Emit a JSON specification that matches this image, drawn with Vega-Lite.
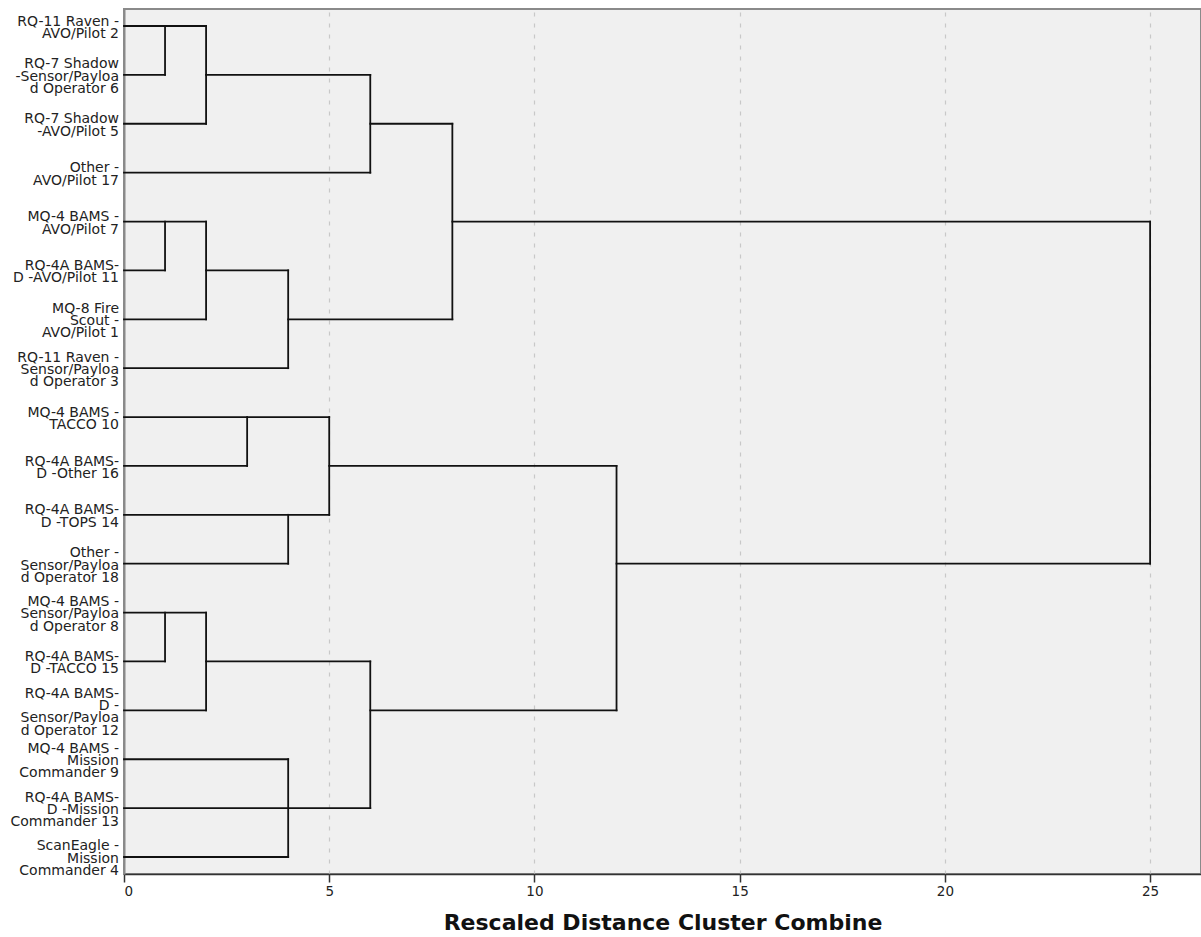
{
  "$schema": "https://vega.github.io/schema/vega-lite/v6.json",
  "width": 1077,
  "height": 865,
  "autosize": {"type": "none"},
  "padding": {"left": 124, "top": 9, "right": 0, "bottom": 63},
  "background": "white",
  "view": {"fill": "#f0f0f0", "stroke": "#8a8a8a", "strokeWidth": 2},
  "datasets": {
    "leaves": [
      {"leaf": 1, "label": "RQ-11 Raven -\nAVO/Pilot 2"},
      {"leaf": 2, "label": "RQ-7 Shadow\n-Sensor/Payloa\nd Operator 6"},
      {"leaf": 3, "label": "RQ-7 Shadow\n-AVO/Pilot 5"},
      {"leaf": 4, "label": "Other -\nAVO/Pilot 17"},
      {"leaf": 5, "label": "MQ-4 BAMS -\nAVO/Pilot 7"},
      {"leaf": 6, "label": "RQ-4A BAMS-\nD -AVO/Pilot 11"},
      {"leaf": 7, "label": "MQ-8 Fire\nScout -\nAVO/Pilot 1"},
      {"leaf": 8, "label": "RQ-11 Raven -\nSensor/Payloa\nd Operator 3"},
      {"leaf": 9, "label": "MQ-4 BAMS -\nTACCO 10"},
      {"leaf": 10, "label": "RQ-4A BAMS-\nD -Other 16"},
      {"leaf": 11, "label": "RQ-4A BAMS-\nD -TOPS 14"},
      {"leaf": 12, "label": "Other -\nSensor/Payloa\nd Operator 18"},
      {"leaf": 13, "label": "MQ-4 BAMS -\nSensor/Payloa\nd Operator 8"},
      {"leaf": 14, "label": "RQ-4A BAMS-\nD -TACCO 15"},
      {"leaf": 15, "label": "RQ-4A BAMS-\nD -\nSensor/Payloa\nd Operator 12"},
      {"leaf": 16, "label": "MQ-4 BAMS -\nMission\nCommander 9"},
      {"leaf": 17, "label": "RQ-4A BAMS-\nD -Mission\nCommander 13"},
      {"leaf": 18, "label": "ScanEagle -\nMission\nCommander 4"}
    ]
  },
  "layer": [
    {
      "data": {
        "values": [
          {"x": 0, "x2": 2, "y": 1, "y2": 1},
          {"x": 0, "x2": 1, "y": 2, "y2": 2},
          {"x": 0, "x2": 2, "y": 3, "y2": 3},
          {"x": 2, "x2": 6, "y": 2, "y2": 2},
          {"x": 0, "x2": 6, "y": 4, "y2": 4},
          {"x": 6, "x2": 8, "y": 3, "y2": 3},
          {"x": 0, "x2": 2, "y": 5, "y2": 5},
          {"x": 0, "x2": 1, "y": 6, "y2": 6},
          {"x": 0, "x2": 2, "y": 7, "y2": 7},
          {"x": 2, "x2": 4, "y": 6, "y2": 6},
          {"x": 0, "x2": 4, "y": 8, "y2": 8},
          {"x": 4, "x2": 8, "y": 7, "y2": 7},
          {"x": 8, "x2": 25, "y": 5, "y2": 5},
          {"x": 0, "x2": 5, "y": 9, "y2": 9},
          {"x": 0, "x2": 3, "y": 10, "y2": 10},
          {"x": 0, "x2": 5, "y": 11, "y2": 11},
          {"x": 0, "x2": 4, "y": 12, "y2": 12},
          {"x": 5, "x2": 12, "y": 10, "y2": 10},
          {"x": 0, "x2": 2, "y": 13, "y2": 13},
          {"x": 0, "x2": 1, "y": 14, "y2": 14},
          {"x": 0, "x2": 2, "y": 15, "y2": 15},
          {"x": 2, "x2": 6, "y": 14, "y2": 14},
          {"x": 0, "x2": 4, "y": 16, "y2": 16},
          {"x": 0, "x2": 6, "y": 17, "y2": 17},
          {"x": 0, "x2": 4, "y": 18, "y2": 18},
          {"x": 6, "x2": 12, "y": 15, "y2": 15},
          {"x": 12, "x2": 25, "y": 12, "y2": 12},
          {"x": 1, "x2": 1, "y": 1, "y2": 2},
          {"x": 2, "x2": 2, "y": 1, "y2": 3},
          {"x": 6, "x2": 6, "y": 2, "y2": 4},
          {"x": 1, "x2": 1, "y": 5, "y2": 6},
          {"x": 2, "x2": 2, "y": 5, "y2": 7},
          {"x": 4, "x2": 4, "y": 6, "y2": 8},
          {"x": 8, "x2": 8, "y": 3, "y2": 7},
          {"x": 3, "x2": 3, "y": 9, "y2": 10},
          {"x": 4, "x2": 4, "y": 11, "y2": 12},
          {"x": 5, "x2": 5, "y": 9, "y2": 11},
          {"x": 1, "x2": 1, "y": 13, "y2": 14},
          {"x": 2, "x2": 2, "y": 13, "y2": 15},
          {"x": 4, "x2": 4, "y": 16, "y2": 18},
          {"x": 6, "x2": 6, "y": 14, "y2": 17},
          {"x": 12, "x2": 12, "y": 10, "y2": 15},
          {"x": 25, "x2": 25, "y": 5, "y2": 12}
        ]
      },
      "mark": {"type": "rule", "color": "#111111", "strokeWidth": 1.8, "strokeCap": "square"},
      "encoding": {
        "x": {
          "field": "x",
          "type": "quantitative",
          "scale": {"domain": [0, 26.24], "nice": false, "zero": false},
          "axis": {
            "values": [0, 5, 10, 15, 20, 25],
            "grid": true,
            "gridDash": [4, 7],
            "gridColor": "#c8c8c8",
            "gridWidth": 1.2,
            "domainColor": "#333333",
            "domainWidth": 1.5,
            "tickColor": "#333333",
            "tickSize": 8,
            "tickWidth": 1.5,
            "labelFont": "DejaVu Sans",
            "labelFontSize": 13.5,
            "labelColor": "#222222",
            "labelPadding": 2,
            "title": "Rescaled Distance Cluster Combine",
            "titleFont": "DejaVu Sans",
            "titleFontSize": 22,
            "titleFontWeight": "bold",
            "titleColor": "#111111",
            "titlePadding": 15
          }
        },
        "x2": {"field": "x2"},
        "y": {
          "field": "y",
          "type": "quantitative",
          "scale": {"domain": [0.652, 18.348], "reverse": true, "nice": false, "zero": false},
          "axis": {
            "title": null,
            "labels": false,
            "ticks": false,
            "grid": false,
            "domainColor": "#8a8a8a",
            "domainWidth": 2
          }
        },
        "y2": {"field": "y2"}
      }
    },
    {
      "data": {"name": "leaves"},
      "transform": [{"filter": "length(split(datum.label, '\\n')) == 2"}],
      "mark": {"type": "text", "align": "right", "baseline": "middle", "dx": -5, "dy": -4.4, "lineBreak": "\n", "lineHeight": 12.4, "font": "DejaVu Sans", "fontSize": 14, "color": "#222222"},
      "encoding": {
        "x": {"datum": 0, "type": "quantitative"},
        "y": {"field": "leaf", "type": "quantitative"},
        "text": {"field": "label"}
      }
    },
    {
      "data": {"name": "leaves"},
      "transform": [{"filter": "length(split(datum.label, '\\n')) == 3"}],
      "mark": {"type": "text", "align": "right", "baseline": "middle", "dx": -5, "dy": -10.6, "lineBreak": "\n", "lineHeight": 12.4, "font": "DejaVu Sans", "fontSize": 14, "color": "#222222"},
      "encoding": {
        "x": {"datum": 0, "type": "quantitative"},
        "y": {"field": "leaf", "type": "quantitative"},
        "text": {"field": "label"}
      }
    },
    {
      "data": {"name": "leaves"},
      "transform": [{"filter": "length(split(datum.label, '\\n')) == 4"}],
      "mark": {"type": "text", "align": "right", "baseline": "middle", "dx": -5, "dy": -16.8, "lineBreak": "\n", "lineHeight": 12.4, "font": "DejaVu Sans", "fontSize": 14, "color": "#222222"},
      "encoding": {
        "x": {"datum": 0, "type": "quantitative"},
        "y": {"field": "leaf", "type": "quantitative"},
        "text": {"field": "label"}
      }
    }
  ]
}
